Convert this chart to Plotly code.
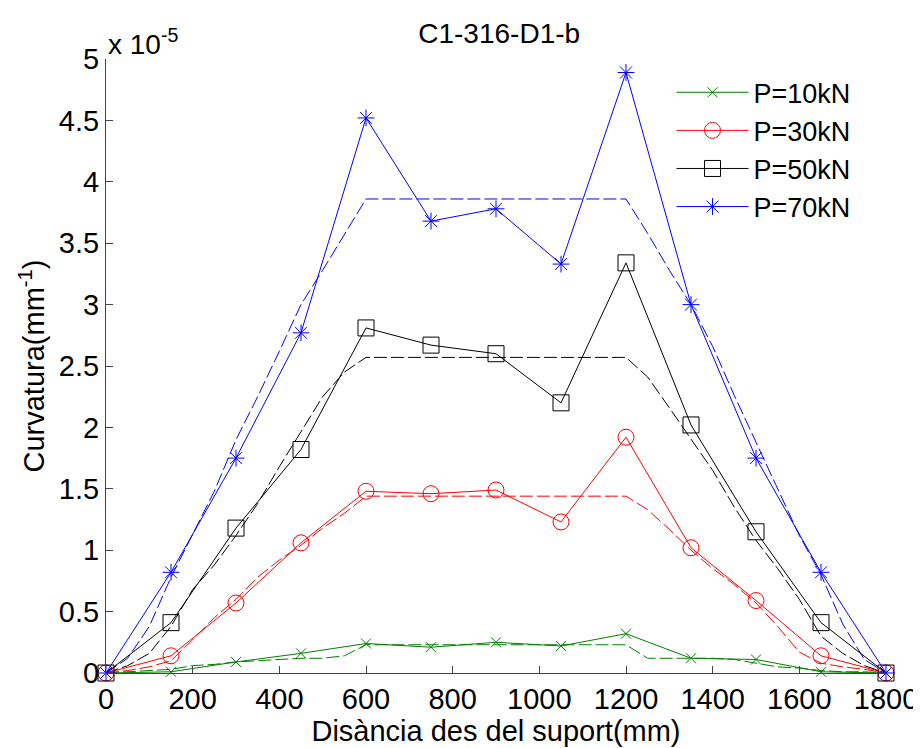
import plotly.graph_objects as go

# distance from support (mm) for measured points
dist = [0, 150, 300, 450, 600, 750, 900, 1050, 1200, 1350, 1500, 1650, 1800]

# measured curvature (x 1e-5 mm^-1)
p10 = [0, 0.01, 0.09, 0.16, 0.24, 0.21, 0.25, 0.22, 0.32, 0.12, 0.11, 0.01, 0]
p30 = [0, 0.14, 0.57, 1.06, 1.48, 1.46, 1.49, 1.23, 1.92, 1.02, 0.59, 0.14, 0]
p50 = [0, 0.41, 1.18, 1.82, 2.81, 2.67, 2.60, 2.20, 3.34, 2.02, 1.15, 0.41, 0]
p70 = [0, 0.82, 1.75, 2.77, 4.52, 3.68, 3.78, 3.33, 4.89, 3.00, 1.75, 0.82, 0]

# theoretical curves (dashed)
dist_th = [0, 50, 100, 150, 200, 250, 300, 350, 400, 450, 500, 550, 600,
           1200, 1250, 1300, 1350, 1400, 1450, 1500, 1550, 1600, 1650, 1700, 1750, 1800]
th10 = [0, 0.01, 0.02, 0.03, 0.06, 0.07, 0.09, 0.10, 0.11, 0.12, 0.12, 0.14, 0.23,
        0.23, 0.12, 0.12, 0.12, 0.12, 0.11, 0.08, 0.05, 0.04, 0.02, 0.01, 0.01, 0]
th30 = [0, 0.02, 0.05, 0.10, 0.27, 0.45, 0.60, 0.78, 0.92, 1.04, 1.18, 1.30, 1.44,
        1.44, 1.33, 1.17, 1.00, 0.85, 0.72, 0.57, 0.38, 0.17, 0.08, 0.05, 0.03, 0]
th50 = [0, 0.06, 0.16, 0.38, 0.68, 0.88, 1.12, 1.38, 1.68, 1.96, 2.25, 2.45, 2.57,
        2.57, 2.41, 2.16, 1.90, 1.65, 1.35, 1.08, 0.85, 0.60, 0.30, 0.16, 0.06, 0]
th70 = [0, 0.12, 0.38, 0.78, 1.13, 1.48, 1.90, 2.25, 2.62, 3.00, 3.28, 3.57, 3.86,
        3.86, 3.58, 3.28, 3.00, 2.66, 2.26, 1.88, 1.50, 1.12, 0.80, 0.40, 0.11, 0]

y_ticks = [0, 0.5, 1, 1.5, 2, 2.5, 3, 3.5, 4, 4.5, 5]
y_tick_text = ['0', '0.5', '1', '1.5', '2', '2.5', '3', '3.5', '4', '4.5', '5']

FONT = 'Liberation Sans, Arial, sans-serif'

series = [
    ('P=10kN', p10, th10, '#008000', 'x-thin-open', 10),
    ('P=30kN', p30, th30, '#ff0000', 'circle-open', 16),
    ('P=50kN', p50, th50, '#000000', 'square-open', 16),
    ('P=70kN', p70, th70, '#0000ff', 'asterisk-open', 14),
]

fig = go.Figure()

# dashed theoretical lines first
for name, meas, th, color, sym, size in series:
    fig.add_trace(go.Scatter(
        x=dist_th, y=th, mode='lines',
        line=dict(color=color, width=1, dash='13px,4px'),
        showlegend=False, hoverinfo='skip'
    ))

for name, meas, th, color, sym, size in series:
    fig.add_trace(go.Scatter(
        x=dist, y=meas, mode='lines+markers', name=name,
        line=dict(color=color, width=1),
        marker=dict(symbol=sym, size=size, color=color, line=dict(color=color, width=1)),
        cliponaxis=False
    ))

# page body has an 8px margin, so the figure is 8px smaller than the window
fig.update_layout(
    width=913, height=740,
    margin=dict(l=98, r=35, t=51, b=75),
    paper_bgcolor='white', plot_bgcolor='white',
    font=dict(family=FONT, size=29, color='#000000'),
    title=dict(text='C1-316-D1-b', x=0.538, xanchor='center', y=0.966, yanchor='middle',
               font=dict(family=FONT, size=28)),
    legend=dict(x=0.725, y=0.985, xanchor='left', yanchor='top',
                bgcolor='white', borderwidth=0, itemwidth=72,
                font=dict(family=FONT, size=27)),
    showlegend=True,
)

fig.update_xaxes(
    range=[0, 1800], tickvals=list(range(0, 1801, 200)),
    showgrid=False, zeroline=False, automargin=False,
    showline=True, linecolor='#444444', linewidth=1,
    ticks='inside', ticklen=7, tickcolor='#444444',
    tickfont=dict(size=29),
    title=dict(text='Disància des del suport(mm)', standoff=6, font=dict(size=29)),
)
fig.update_yaxes(
    range=[0, 5], tickvals=y_ticks, ticktext=y_tick_text,
    showgrid=False, zeroline=False, automargin=False,
    showline=True, linecolor='#444444', linewidth=1,
    ticks='inside', ticklen=7, tickcolor='#444444',
    tickfont=dict(size=29),
    title=dict(text='Curvatura(mm<sup>-1</sup>)', standoff=5, font=dict(size=29)),
)

fig.add_annotation(
    text='x 10<sup>-5</sup>', xref='paper', yref='paper', x=0.0, y=1.0,
    xanchor='left', yanchor='bottom', yshift=-3, showarrow=False,
    font=dict(family=FONT, size=28)
)

fig.write_html('out.html')
